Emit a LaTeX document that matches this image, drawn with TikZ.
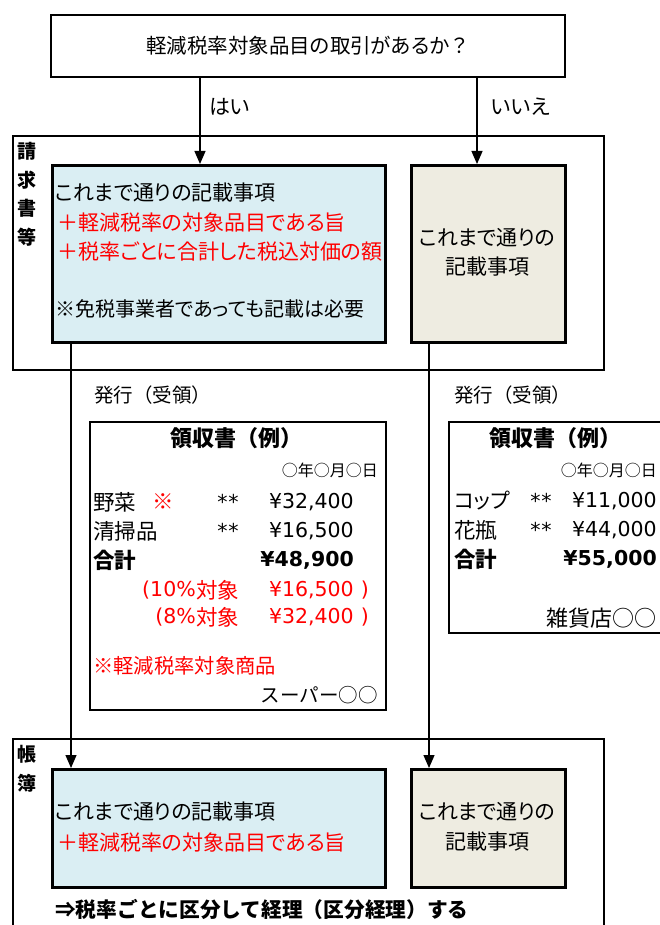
\documentclass[tikz,border=0pt]{standalone}
\usepackage{fontspec}
\setmainfont{Noto Sans CJK JP}
\newfontfamily\pf{Noto Sans CJK JP}[RawFeature=+palt]
\newfontfamily\lat{DejaVu Sans}
\usetikzlibrary{arrows.meta}
\definecolor{bluefill}{HTML}{DAEEF3}
\definecolor{beigefill}{HTML}{EEECE1}
\definecolor{myred}{HTML}{FF0000}
\tikzset{
  frame/.style={draw=black, line width=2pt, inner sep=0pt, anchor=north west},
  inbox/.style={draw=black, line width=2.6pt, inner sep=0pt, anchor=north west},
  t/.style={inner sep=0pt, font=\pf\fontsize{21}{24}\selectfont},
  tr/.style={t, text=myred},
  tb/.style={inner sep=0pt, font=\fontsize{22}{25}\selectfont\bfseries},
  rt/.style={inner sep=0pt, font=\fontsize{21.5}{24}\selectfont},
  rtr/.style={rt, text=myred},
  rtb/.style={inner sep=0pt, font=\fontsize{21.5}{24}\selectfont\bfseries},
  num/.style={inner sep=0pt, font=\lat\fontsize{20.5}{24}\selectfont},
  numr/.style={num, text=myred},
  numb/.style={inner sep=0pt, font=\lat\fontsize{20.5}{24}\selectfont\bfseries},
  side/.style={inner sep=0pt, align=center, font=\fontsize{19}{28.5}\selectfont\bfseries},
  arr/.style={-{Triangle[width=11pt,length=13pt]}, line width=1.2pt},
}
\begin{document}
\begin{tikzpicture}[x=1pt,y=-1pt]
\useasboundingbox (0,0) rectangle (660,925);
\clip (0,0) rectangle (660,925);
% question
\node[frame, minimum width=514pt, minimum height=62pt, font=\pf\fontsize{20.5}{24}\selectfont] (q) at (50,14) {軽減税率対象品目の取引があるか{\normalfont ？}};
% upper outer box
\node[frame, minimum width=591pt, minimum height=234pt] (os1) at (12,135) {};
\node[side] (lab1) at (27,194.5) {請\\求\\書\\等};
\node[inbox, fill=bluefill, minimum width=333pt, minimum height=177pt] (b1) at (51,164) {};
\node[inbox, fill=beigefill, minimum width=154pt, minimum height=177pt] (g1) at (410,164) {};
\node[t, anchor=west] (b1t1) at (55,193) {これまで通りの記載事項};
\node[tr, anchor=west] (b1t2) at (57,223) {＋軽減税率の対象品目である旨};
\node[tr, anchor=west] (b1t3) at (57,252) {＋税率ごとに合計した税込対価の額};
\node[t, anchor=west, font=\pf\fontsize{20}{23}\selectfont] (b1t4) at (55,309) {※免税事業者であっても記載は必要};
\node[t, align=center, font=\pf\fontsize{21}{29}\selectfont] (g1t) at (487,252.5) {これまで通りの\\記載事項};
% arrows from question
\coordinate (cx1) at (200,0);
\coordinate (cx2) at (477,0);
\coordinate (cx3) at (71,0);
\coordinate (cx4) at (429,0);
\draw[arr] (q.south -| cx1) -- (b1.north -| cx1);
\draw[arr] (q.south -| cx2) -- (g1.north -| cx2);
\node[t, anchor=west] (yes) at (209,107) {はい};
\node[t, anchor=west] (no) at (491,107) {いいえ};
% issue labels
\node[inner sep=0pt, anchor=west, font=\fontsize{19.5}{23}\selectfont] (iss1) at (94,395) {発行（受領）};
\node[inner sep=0pt, anchor=west, font=\fontsize{19.5}{23}\selectfont] (iss2) at (454,395) {発行（受領）};
% receipt 1
\node[frame, fill=white, minimum width=296pt, minimum height=288pt] (r1) at (89,421) {};
\node[tb, anchor=west] (r1h) at (170,438) {領収書（例）};
\node[inner sep=0pt, anchor=east, font=\fontsize{16}{19}\selectfont] (r1d) at (378,470) {○年○月○日};
\node[rt, anchor=west] (r1a) at (93,502) {野菜};
\node[rtr] (r1m) at (163,502) {※};
\node[num] (r1s1) at (228,502) {*\kern1pt*};
\node[num, anchor=east] (r1p1) at (354,502) {¥32,400};
\node[rt, anchor=west] (r1b) at (93,531) {清掃品};
\node[num] (r1s2) at (228,531) {*\kern1pt*};
\node[num, anchor=east] (r1p2) at (354,531) {¥16,500};
\node[rtb, anchor=west] (r1c) at (93,560) {合計};
\node[numb, anchor=east] (r1p3) at (354,560) {¥48,900};
\node[numr, anchor=east] (r1d1) at (196,590) {(10\%};
\node[rtr, anchor=west] (r1d1b) at (r1d1.east) {対象};
\node[numr, anchor=east] (r1d2) at (354,590) {¥16,500};
\node[numr, anchor=east] (r1d3) at (369,590) {)};
\node[numr, anchor=east] (r1e1) at (196,617) {(8\%};
\node[rtr, anchor=west] (r1e1b) at (r1e1.east) {対象};
\node[numr, anchor=east] (r1e2) at (354,617) {¥32,400};
\node[numr, anchor=east] (r1e3) at (369,617) {)};
\node[tr, anchor=west, font=\fontsize{20.3}{23}\selectfont] (r1n) at (93,666) {※軽減税率対象商品};
\node[inner sep=0pt, anchor=east, font=\fontsize{19.5}{23}\selectfont] (r1shop) at (378,695) {スーパー○○};
% receipt 2
\node[frame, fill=white, minimum width=222pt, minimum height=211pt] (r2) at (448,421) {};
\node[tb, anchor=west] (r2h) at (489,438) {領収書（例）};
\node[inner sep=0pt, anchor=east, font=\fontsize{16}{19}\selectfont] (r2d) at (657,470) {○年○月○日};
\node[rt, anchor=west, font=\pf\fontsize{21}{24}\selectfont] (r2a) at (454,501) {コップ};
\node[num] (r2s1) at (541,501) {*\kern1pt*};
\node[num, anchor=east] (r2p1) at (657,501) {¥11,000};
\node[rt, anchor=west] (r2b) at (454,530) {花瓶};
\node[num] (r2s2) at (541,530) {*\kern1pt*};
\node[num, anchor=east] (r2p2) at (657,530) {¥44,000};
\node[rtb, anchor=west] (r2c) at (454,559) {合計};
\node[numb, anchor=east] (r2p3) at (657,559) {¥55,000};
\node[inner sep=0pt, anchor=east, font=\fontsize{22}{25}\selectfont] (r2shop) at (657,618) {雑貨店○○};
% lower outer box
\node[frame, minimum width=591pt, minimum height=210pt] (os2) at (12,738) {};
\node[side] (lab2) at (27,769) {帳\\簿};
\node[inbox, fill=bluefill, minimum width=333pt, minimum height=118pt] (b2) at (51,768) {};
\node[inbox, fill=beigefill, minimum width=154pt, minimum height=118pt] (g2) at (410,768) {};
\node[t, anchor=west] (b2t1) at (55,812) {これまで通りの記載事項};
\node[tr, anchor=west] (b2t2) at (57,842) {＋軽減税率の対象品目である旨};
\node[t, align=center, font=\pf\fontsize{21}{30}\selectfont] (g2t) at (487,827) {これまで通りの\\記載事項};
\node[inner sep=0pt, anchor=west, font=\fontsize{20.7}{24}\selectfont\bfseries] (concl) at (55,909) {⇒税率ごとに区分して経理（区分経理）する};
% down connectors
\draw[arr] (b1.south -| cx3) -- (b2.north -| cx3);
\draw[arr] (g1.south -| cx4) -- (g2.north -| cx4);
\end{tikzpicture}
\end{document}
